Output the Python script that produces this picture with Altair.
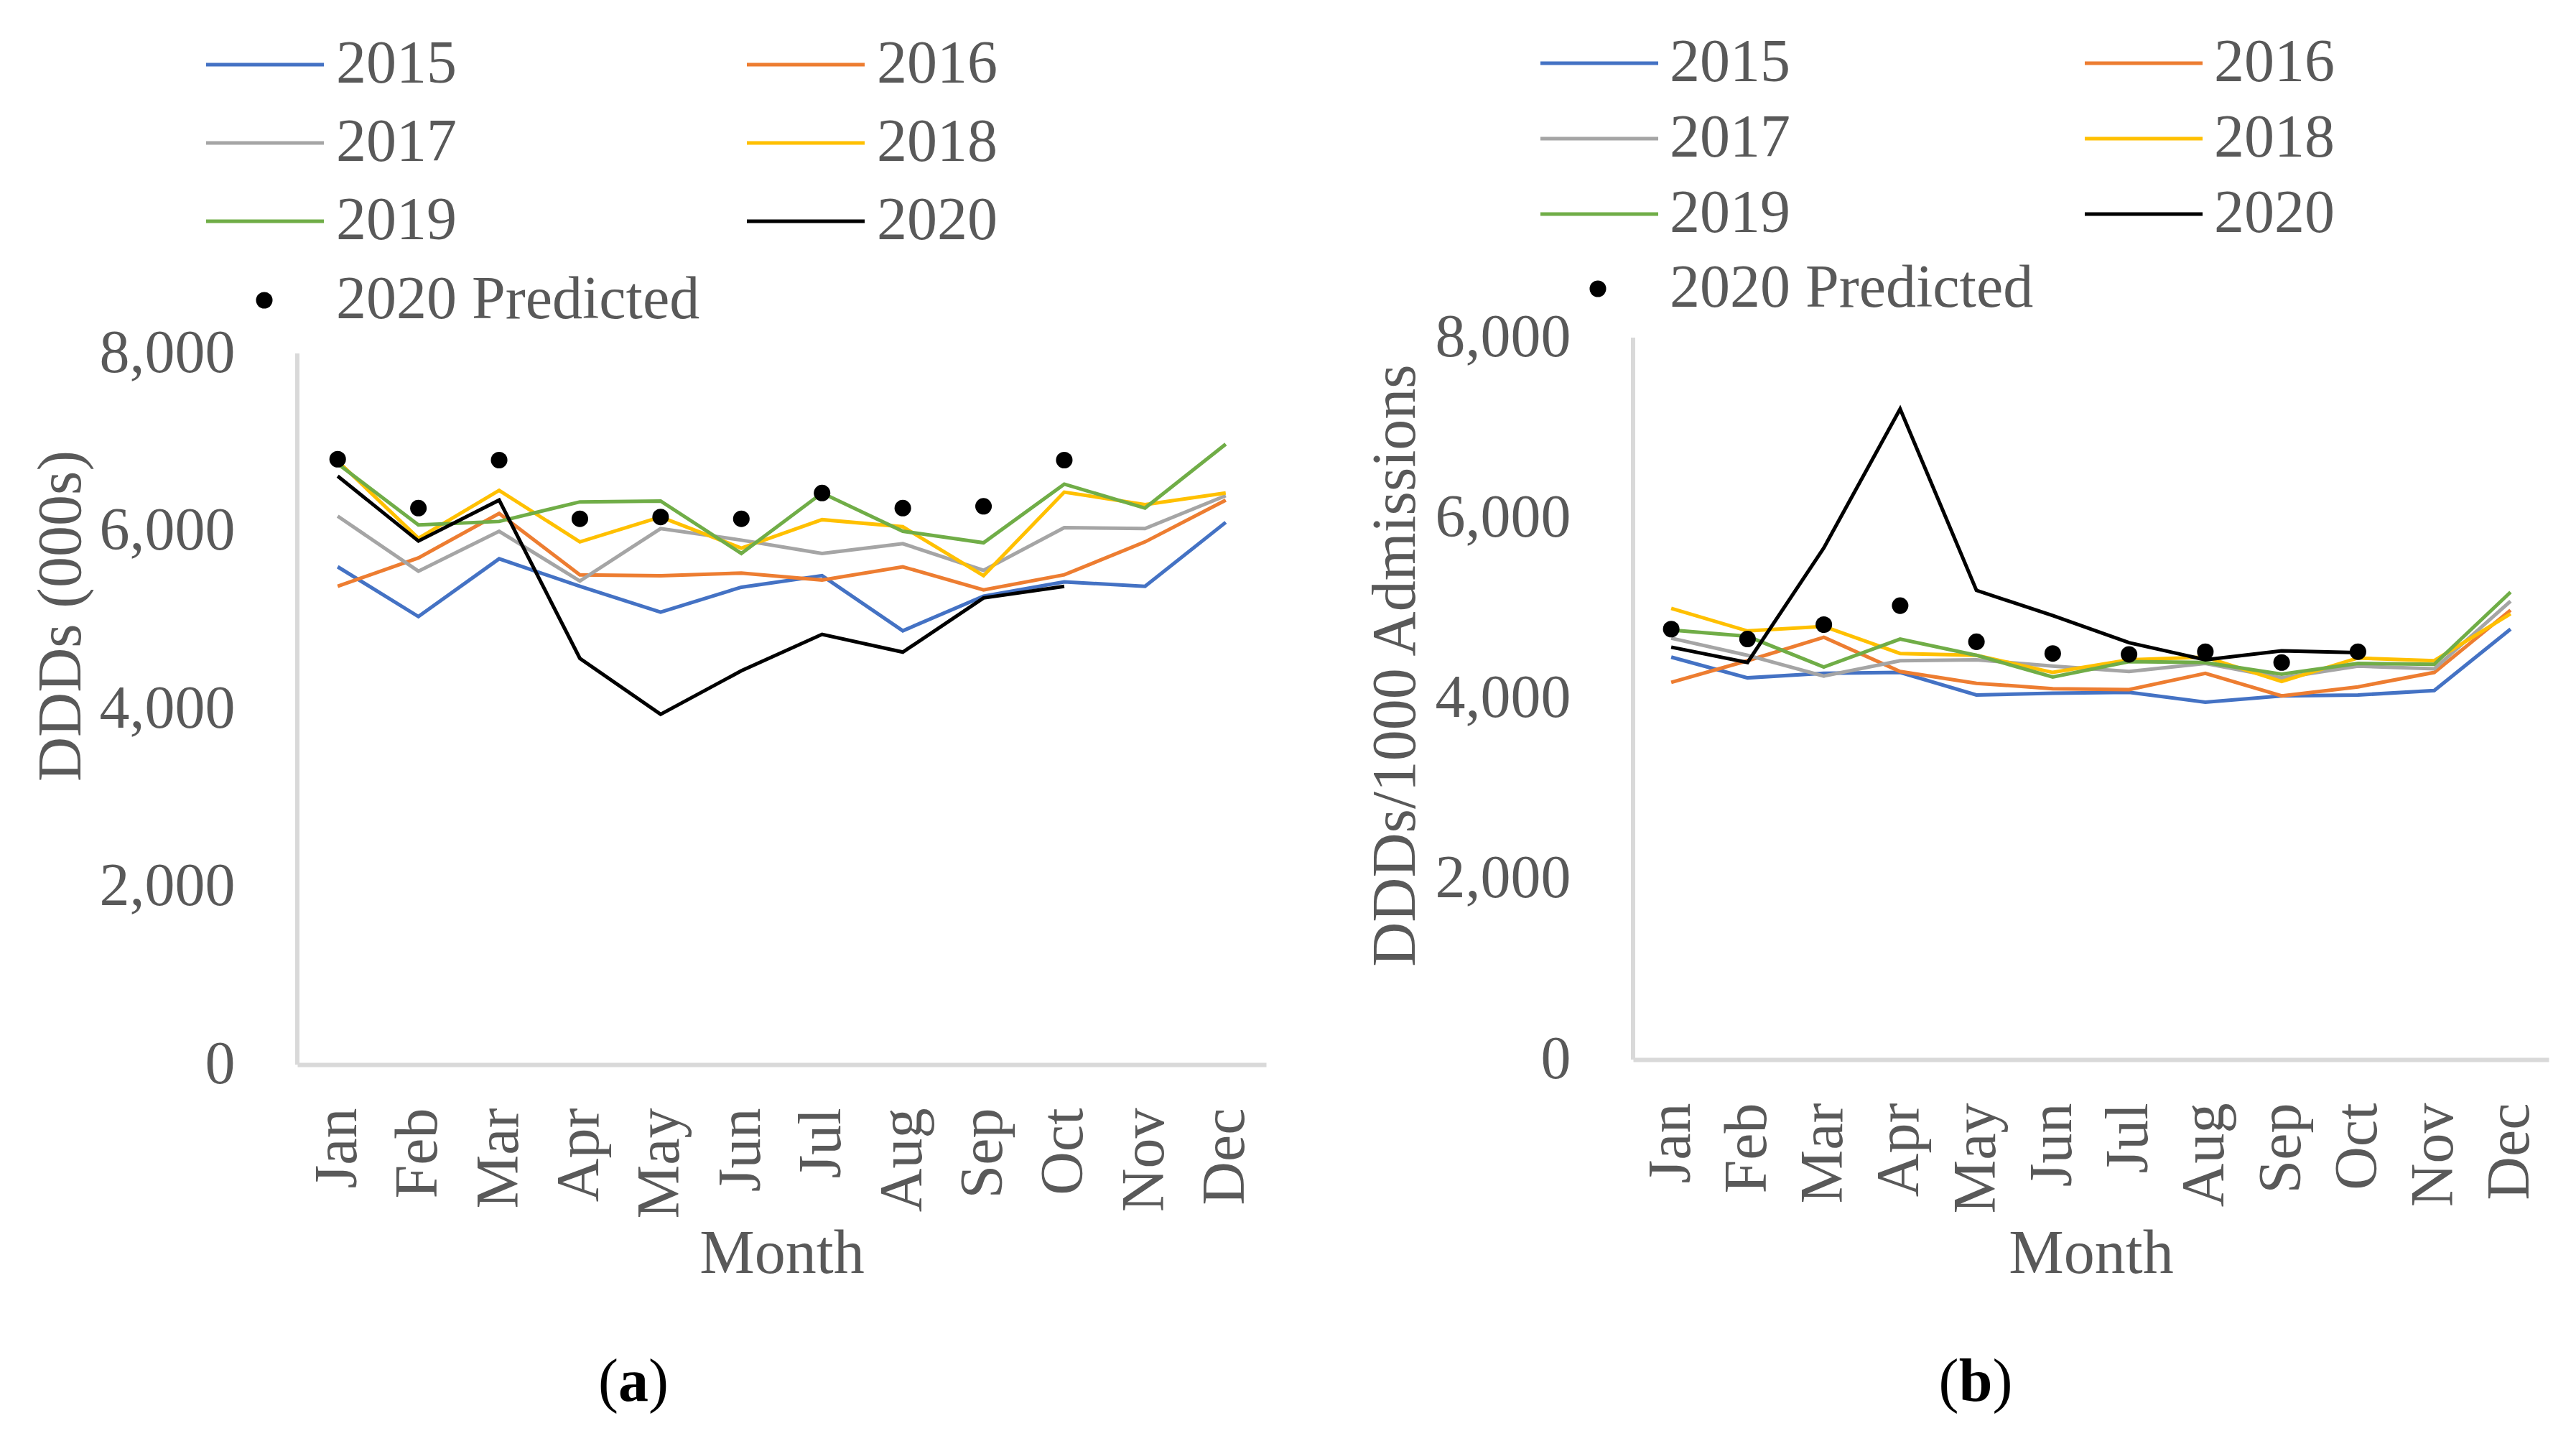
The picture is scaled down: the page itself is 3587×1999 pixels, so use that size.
import altair as alt
import pandas as pd

months = ["Jan", "Feb", "Mar", "Apr", "May", "Jun", "Jul", "Aug", "Sep", "Oct", "Nov", "Dec"]
years = ["2015", "2016", "2017", "2018", "2019", "2020"]
line_colors = ["#4472C4", "#ED7D31", "#A5A5A5", "#FFC000", "#70AD47", "#000000"]
y_ticks = [0, 2000, 4000, 6000, 8000]

# Panel (a): DDDs (000s)
a_2015 = [5600, 5040, 5690, 5380, 5090, 5370, 5500, 4880, 5270, 5430, 5380, 6100]
a_2016 = [5380, 5700, 6200, 5510, 5500, 5530, 5450, 5600, 5340, 5510, 5880, 6350]
a_2017 = [6170, 5550, 6000, 5440, 6030, 5900, 5750, 5860, 5560, 6040, 6030, 6400]
a_2018 = [6790, 5920, 6460, 5880, 6160, 5810, 6130, 6050, 5500, 6440, 6300, 6430]
a_2019 = [6760, 6070, 6110, 6330, 6340, 5750, 6430, 6000, 5870, 6530, 6260, 6980]
a_2020 = [6620, 5890, 6350, 4570, 3940, 4430, 4840, 4640, 5250, 5380]
a_pred = [6810, 6260, 6800, 6140, 6160, 6140, 6430, 6260, 6280, 6800]

# Panel (b): DDDs/1000 Admissions
b_2015 = [4460, 4230, 4280, 4290, 4040, 4060, 4070, 3960, 4030, 4040, 4090, 4770]
b_2016 = [4180, 4420, 4680, 4300, 4170, 4110, 4100, 4280, 4030, 4130, 4290, 4980]
b_2017 = [4670, 4480, 4250, 4420, 4430, 4360, 4300, 4390, 4230, 4360, 4330, 5080]
b_2018 = [5000, 4750, 4800, 4500, 4480, 4290, 4430, 4460, 4190, 4450, 4420, 4940]
b_2019 = [4760, 4690, 4350, 4660, 4480, 4240, 4410, 4400, 4270, 4390, 4380, 5180]
b_2020 = [4570, 4400, 5670, 7210, 5200, 4920, 4620, 4430, 4530, 4510]
b_pred = [4770, 4660, 4820, 5030, 4630, 4500, 4490, 4520, 4400, 4520]

FONT = "Liberation Serif"
TEXT = "#595959"
AXIS = "#D9D9D9"
LINE_SYMBOL = "M-3,0L3,0"


def long_df(series):
    rows = []
    for yr, vals in zip(years, series):
        for m, v in zip(months, vals):
            rows.append({"Month": m, "Year": yr, "Value": v})
    return pd.DataFrame(rows)


def panel(series, pred, width, height, ymax, ytitle, ytitle_x, ytitle_y,
          month_title_y, leg1, leg2, row_pad, col_pad, caption, cap_x, cap_y, cap_w):
    lines_df = long_df(series)
    pred_df = pd.DataFrame({
        "Month": months[:len(pred)],
        "Value": pred,
        "Series": ["2020 Predicted"] * len(pred),
    })
    axis_df = pd.DataFrame({"Value": [y_ticks[0]], "Top": [y_ticks[-1]]})

    x_enc = alt.X(
        "Month:N",
        scale=alt.Scale(type="point", domain=months, padding=0.5),
        axis=alt.Axis(
            title="Month", labelAngle=270, labelFont=FONT, labelFontSize=84,
            labelColor=TEXT, labelPadding=60, labelOverlap=False, labelLimit=1000,
            ticks=False, domainColor=AXIS, domainWidth=6, grid=False,
            titleFont=FONT, titleFontSize=86, titleColor=TEXT,
            titleFontWeight="normal", titleY=month_title_y,
            titleBaseline="alphabetic", titleAlign="center",
        ),
    )
    y_enc = alt.Y(
        "Value:Q",
        scale=alt.Scale(domain=[0, ymax], nice=False, zero=False),
        axis=alt.Axis(
            title=ytitle, values=y_ticks, format=",.0f", labelFont=FONT,
            labelFontSize=84, labelColor=TEXT, labelPadding=87, labelLimit=1000,
            ticks=False, domain=False, grid=False,
            titleFont=FONT, titleFontSize=86, titleColor=TEXT,
            titleFontWeight="normal", titleAngle=270, titleX=ytitle_x,
            titleY=ytitle_y, titleBaseline="alphabetic", titleAlign="center",
            titleLimit=3000,
        ),
    )

    axis_line = alt.Chart(axis_df).mark_rule(color=AXIS, strokeWidth=6).encode(
        x=alt.value(0), y=y_enc, y2=alt.Y2("Top:Q")
    )

    lines = alt.Chart(lines_df).mark_line(strokeWidth=5).encode(
        x=x_enc,
        y=y_enc,
        color=alt.Color(
            "Year:N",
            scale=alt.Scale(domain=years, range=line_colors),
            legend=alt.Legend(
                orient="none", legendX=leg1[0], legendY=leg1[1], columns=2,
                direction="horizontal",
                symbolType=LINE_SYMBOL, symbolSize=2990, symbolStrokeWidth=5,
                symbolOffset=0, labelOffset=leg1[2], labelFont=FONT,
                labelFontSize=84, labelColor=TEXT, labelLimit=1000,
                columnPadding=col_pad, rowPadding=row_pad, padding=0, title=None,
            ),
        ),
    )

    points = alt.Chart(pred_df).mark_point(
        filled=True, size=531, color="black", opacity=1
    ).encode(
        x=x_enc,
        y=y_enc,
        shape=alt.Shape(
            "Series:N",
            scale=alt.Scale(domain=["2020 Predicted"], range=["circle"]),
            legend=alt.Legend(
                orient="none", legendX=leg2[0], legendY=leg2[1],
                symbolSize=531, symbolFillColor="black", symbolStrokeColor="black",
                symbolStrokeWidth=0, symbolOffset=0, labelOffset=leg2[2],
                labelFont=FONT, labelFontSize=84, labelColor=TEXT,
                labelLimit=1000, padding=0, title=None,
            ),
        ),
    )

    cap_df = pd.DataFrame({"k": [0]})
    cap_open = alt.Chart(cap_df).mark_text(
        text="(", font=FONT, fontSize=84, color="black", align="right",
        baseline="alphabetic"
    ).encode(x=alt.value(cap_x - cap_w / 2), y=alt.value(cap_y))
    cap_letter = alt.Chart(cap_df).mark_text(
        text=caption, font=FONT, fontSize=84, fontWeight="bold", color="black",
        align="center", baseline="alphabetic"
    ).encode(x=alt.value(cap_x), y=alt.value(cap_y))
    cap_close = alt.Chart(cap_df).mark_text(
        text=")", font=FONT, fontSize=84, color="black", align="left",
        baseline="alphabetic"
    ).encode(x=alt.value(cap_x + cap_w / 2), y=alt.value(cap_y))

    return alt.layer(axis_line, lines, points, cap_open, cap_letter, cap_close).properties(
        width=width, height=height
    )


panel_a = panel(
    [a_2015, a_2016, a_2017, a_2018, a_2019, a_2020], a_pred,
    width=1349, height=1012, ymax=8000 * 1012 / 990,
    ytitle="DDDs (000s)", ytitle_x=-303, ytitle_y=387, month_title_y=289,
    leg1=(-87, -422, 57), leg2=(-88, -94, 58), row_pad=25, col_pad=393,
    caption="a", cap_x=468, cap_y=1480, cap_w=42,
)
panel_b = panel(
    [b_2015, b_2016, b_2017, b_2018, b_2019, b_2020], b_pred,
    width=1275, height=1005, ymax=8000,
    ytitle="DDDs/1000 Admissions", ytitle_x=-305, ytitle_y=456, month_title_y=296,
    leg1=(-89, -424, 56), leg2=(-91, -110, 58), row_pad=21, col_pad=399,
    caption="b", cap_x=477, cap_y=1480, cap_w=47,
)

chart = alt.hconcat(panel_a, panel_b, spacing=511, bounds="flush").resolve_scale(
    color="independent", shape="independent"
).configure_view(strokeWidth=0).properties(
    padding={"left": 34, "top": 38, "right": 5, "bottom": 5}, background="white"
)

chart.save("out.html", embed_options={"renderer": "svg", "actions": False})
